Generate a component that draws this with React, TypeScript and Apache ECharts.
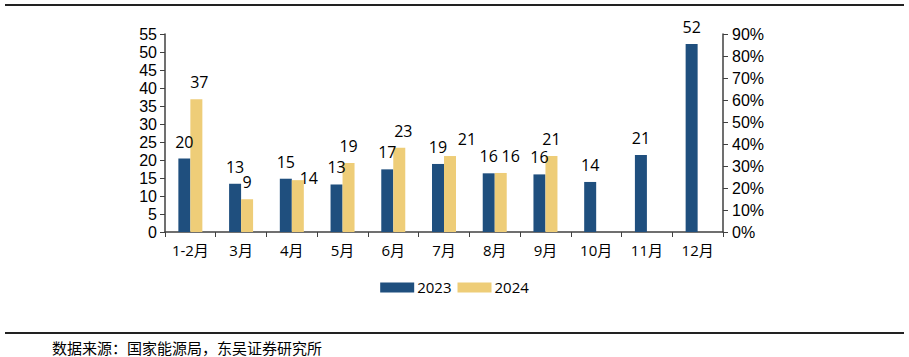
import React, { useEffect, useRef } from "react";
import * as echarts from "echarts";

const categories = ["1-2月", "3月", "4月", "5月", "6月", "7月", "8月", "9月", "10月", "11月", "12月"];
const values2023 = [20.4, 13.4, 14.8, 13.2, 17.4, 18.9, 16.3, 16.0, 13.9, 21.4, 52.2];
const values2024 = [36.9, 9.1, 14.4, 19.2, 23.4, 21.1, 16.4, 21.1, null, null, null];
const leftTicks = { min: 0, max: 55, interval: 5 };
const rightTicks = { min: 0, max: 0.9, interval: 0.1 };
const sourceText = "数据来源：国家能源局，东吴证券研究所";

// label nudges for 2024 series (layout only)
const label2024Offsets: [number, number][] = [
  [3, 0], [0, 0], [11, 15], [0, 0], [4, 0], [17, 0], [10, 0], [0, 0],
];

const BLUE = "#1f4f7e";
const YELLOW = "#eecd78";
const AXIS = "#404040";
const FONT = "'Open Sans', 'Noto Sans CJK SC', sans-serif";
const AXIS_FONT = "'Liberation Sans', Arial, sans-serif";

export default function App() {
  const ref = useRef<HTMLDivElement>(null);
  useEffect(() => {
    if (!ref.current) return;
    const chart = echarts.init(ref.current, undefined, { renderer: "svg" });
    const labelStyle = {
      show: true,
      position: "top" as const,
      distance: 9,
      fontSize: 16,
      lineHeight: 16,
      color: "#000",
      fontFamily: FONT,
      formatter: (p: any) => (p.value == null ? "" : String(Math.round(p.value))),
    };
    const data2024 = values2024.map((v, i) => {
      const off = label2024Offsets[i];
      if (v == null) return null;
      return off ? { value: v, label: { offset: off } } : v;
    });
    chart.setOption({
      animation: false,
      textStyle: { fontFamily: FONT },
      grid: { left: 165, right: 186, top: 34, bottom: 125, containLabel: false },
      legend: {
        bottom: 57,
        left: "center",
        itemWidth: 34,
        itemHeight: 10,
        itemGap: 6,
        icon: "rect",
        textStyle: { fontSize: 15, color: "#000", fontFamily: FONT, padding: [0, 0, 0, -2] },
        data: ["2023", "2024"],
      },
      xAxis: {
        type: "category",
        data: categories,
        boundaryGap: true,
        axisLine: { lineStyle: { color: AXIS, width: 1.5 } },
        axisTick: { show: true, length: 5, alignWithLabel: false, lineStyle: { color: AXIS } },
        axisLabel: { fontSize: 15, color: "#000", margin: 10, fontFamily: FONT },
      },
      yAxis: [
        {
          type: "value",
          ...leftTicks,
          position: "left",
          axisLine: { show: true, lineStyle: { color: AXIS, width: 1.5 } },
          axisTick: { show: true, length: 5, lineStyle: { color: AXIS } },
          splitLine: { show: false },
          axisLabel: { fontSize: 16, lineHeight: 16, color: "#000", margin: 8, fontFamily: AXIS_FONT },
        },
        {
          type: "value",
          ...rightTicks,
          position: "right",
          axisLine: { show: true, lineStyle: { color: AXIS, width: 1.5 } },
          axisTick: { show: true, length: 5, lineStyle: { color: AXIS } },
          splitLine: { show: false },
          axisLabel: {
            fontSize: 16,
            lineHeight: 16,
            color: "#000",
            margin: 9,
            fontFamily: AXIS_FONT,
            formatter: (v: number) => Math.round(v * 100) + "%",
          },
        },
      ],
      series: [
        {
          name: "2023",
          type: "bar",
          data: values2023,
          barWidth: 12,
          barGap: "0%",
          itemStyle: { color: BLUE },
          label: labelStyle,
        },
        {
          name: "2024",
          type: "bar",
          data: data2024,
          barWidth: 12,
          barGap: "0%",
          itemStyle: { color: YELLOW },
          label: labelStyle,
        },
      ],
      graphic: [
        { type: "line", shape: { x1: 5, y1: 5, x2: 904, y2: 5 }, style: { stroke: "#222", lineWidth: 2 } },
        { type: "line", shape: { x1: 5, y1: 333, x2: 904, y2: 333 }, style: { stroke: "#222", lineWidth: 2 } },
        {
          type: "text",
          left: 52,
          top: 340,
          style: { text: sourceText, fontSize: 15, fill: "#000", fontFamily: "'Noto Sans CJK SC', sans-serif" },
        },
      ],
    });
    return () => chart.dispose();
  }, []);
  return (
    <div
      ref={ref}
      style={{ position: "fixed", left: 0, top: 0, width: 909, height: 357, background: "#fff" }}
    />
  );
}
